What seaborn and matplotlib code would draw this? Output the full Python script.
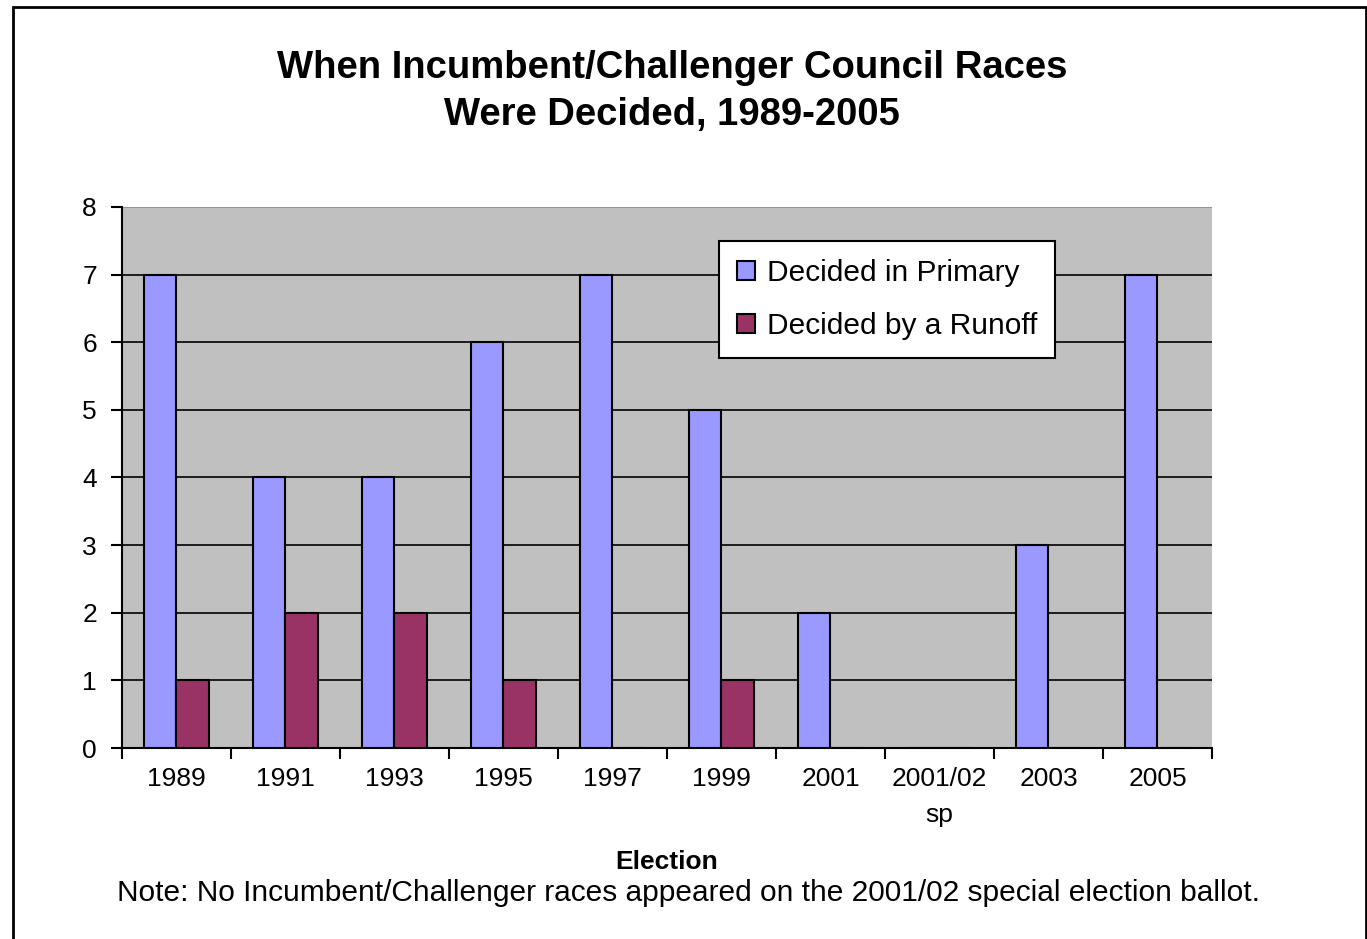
import numpy as np
import pandas as pd
import seaborn as sns
from matplotlib import pyplot as plt
from matplotlib.patches import Rectangle

elections = ["1989", "1991", "1993", "1995", "1997", "1999", "2001", "2001/02\nsp", "2003", "2005"]
primary = [7, 4, 4, 6, 7, 5, 2, 0, 3, 7]
runoff = [1, 2, 2, 1, 0, 1, 0, 0, 0, 0]
series = ["Decided in Primary", "Decided by a Runoff"]
colors = ["#9999FF", "#993366"]

df = pd.DataFrame({
    "Election": elections * 2,
    "Series": [series[0]] * len(elections) + [series[1]] * len(elections),
    "Count": primary + runoff,
})

sns.set_style("white")
plt.rcParams["font.family"] = ["Liberation Sans", "DejaVu Sans"]
plt.rcParams["text.color"] = "black"
plt.rcParams["axes.labelcolor"] = "black"
plt.rcParams["xtick.color"] = "black"
plt.rcParams["ytick.color"] = "black"

fig = plt.figure(figsize=(13.67, 9.39), dpi=100)
ax = fig.add_axes([0.0892, 0.2034, 0.7974, 0.5762])

sns.barplot(data=df, x="Election", y="Count", hue="Series", order=elections,
            hue_order=series, palette=colors, width=0.59, edgecolor="black",
            linewidth=1.5, saturation=1, ax=ax, zorder=3)

ax.set_facecolor("#C0C0C0")
ax.set_ylim(0, 8)
ax.set_xlim(-0.5, len(elections) - 0.5)
ax.set_yticks(range(0, 9))
ax.yaxis.grid(True, color="black", linewidth=1.2, zorder=1)
ax.get_ygridlines()[-1].set_color("#8a8a8a")
ax.set_axisbelow(True)
for s in ["top", "right"]:
    ax.spines[s].set_visible(False)
for s in ["left", "bottom"]:
    ax.spines[s].set_color("black")
    ax.spines[s].set_linewidth(1.5)

ax.tick_params(axis="y", direction="out", length=8, width=1.5,
               labelsize=19, pad=10, left=True)
ax.tick_params(axis="x", which="major", length=0, labelsize=19, pad=14)
for lab in ax.get_xticklabels():
    lab.set_linespacing(1.6)
ax.set_xticks(np.arange(-0.5, len(elections)), minor=True)
ax.tick_params(axis="x", which="minor", direction="out", length=8, width=1.5,
               bottom=True)

ax.set_xlabel("Election", fontsize=19, fontweight="bold", labelpad=17)
ax.set_ylabel("")

leg = ax.legend(loc="upper left", bbox_to_anchor=(0.534, 0.965), fontsize=21.5,
                frameon=True, fancybox=False, edgecolor="black", framealpha=1,
                handlelength=0.6, handleheight=0.6, handletextpad=0.4,
                labelspacing=0.85, borderpad=0.6)
leg.get_frame().set_linewidth(1.5)

fig.text(0.4915, 0.928, "When Incumbent/Challenger Council Races", ha="center",
         va="center", fontsize=27.5, fontweight="bold")
fig.text(0.4915, 0.877, "Were Decided, 1989-2005", ha="center",
         va="center", fontsize=27.5, fontweight="bold")
fig.text(0.504, 0.049, "Note: No Incumbent/Challenger races appeared on the 2001/02 special election ballot.",
         ha="center", va="center", fontsize=21.5)

fig.patches.append(Rectangle((0.0095, -0.01), 0.99, 1.0025, transform=fig.transFigure,
                             fill=False, edgecolor="black", linewidth=2))

fig.savefig("out.png", dpi=100)
